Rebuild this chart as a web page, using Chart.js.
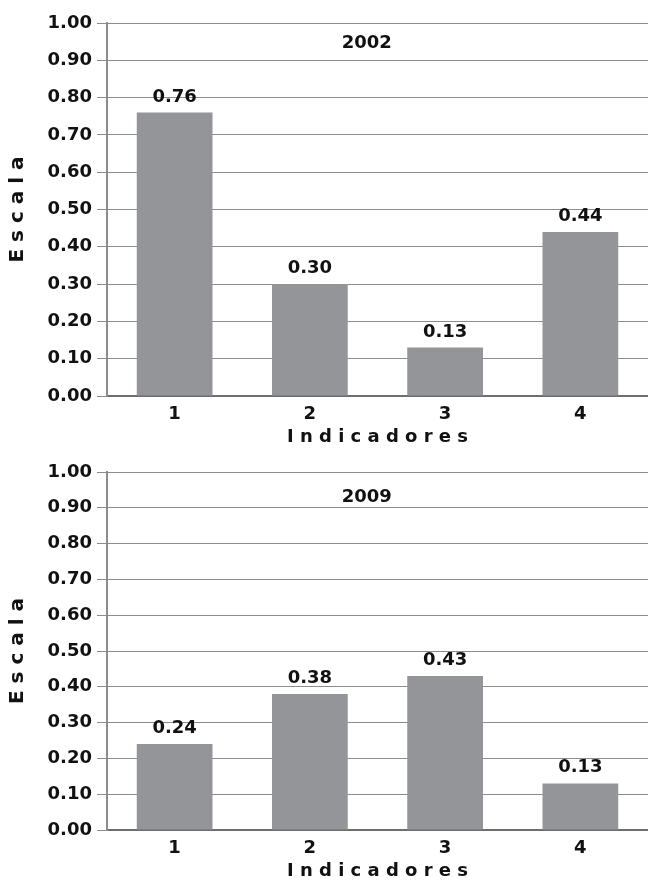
<!DOCTYPE html>
<html>
<head>
<meta charset="utf-8">
<script src="https://cdn.jsdelivr.net/npm/chart.js@4.4.0/dist/chart.umd.min.js"></script>
<style>
  html, body { margin: 0; padding: 0; background: #fff; }
  #topo { position: relative; width: 648px; height: 448px; }
  #base { position: relative; width: 648px; height: 440px; }
</style>
</head>
<body>
<div id="topo"><canvas id="grafico2002"></canvas></div>
<div id="base"><canvas id="grafico2009"></canvas></div>
<script>
// Dados
const indicadores = ['1', '2', '3', '4'];
const valores2002 = [0.76, 0.30, 0.13, 0.44];
const valores2009 = [0.24, 0.38, 0.43, 0.13];
const rotulosEscala = ['0.00', '0.10', '0.20', '0.30', '0.40', '0.50', '0.60', '0.70', '0.80', '0.90', '1.00'];

const fonte = '"DejaVu Sans", sans-serif';
const corBarra = '#939598';
const corGrade = '#8c8c8c';

// Plugin simples: valores acima das barras e o ano dentro da área
const pluginRotulos = {
  id: 'rotulos',
  afterDatasetsDraw(chart, args, opts) {
    const ctx = chart.ctx;
    const meta = chart.getDatasetMeta(0);
    const dados = chart.data.datasets[0].data;
    ctx.save();
    ctx.font = 'bold 18px ' + fonte;
    ctx.fillStyle = '#111';
    ctx.textAlign = 'center';
    ctx.textBaseline = 'alphabetic';
    meta.data.forEach((barra, i) => {
      ctx.fillText(dados[i].toFixed(2), barra.x, barra.y - 11);
    });
    const area = chart.chartArea;
    ctx.fillText(opts.ano, area.left + (area.right - area.left) * 0.48, area.top + opts.desloc);
    ctx.restore();
  }
};

function criarGrafico(idCanvas, ano, valores, margemTopo, margemBase, deslocAno) {
  return new Chart(document.getElementById(idCanvas), {
    type: 'bar',
    data: {
      labels: indicadores,
      datasets: [{
        data: valores,
        backgroundColor: corBarra,
        borderWidth: 0,
        barPercentage: 0.56,
        categoryPercentage: 1
      }]
    },
    options: {
      responsive: true,
      maintainAspectRatio: false,
      animation: false,
      layout: { padding: { top: margemTopo, bottom: margemBase, left: 0, right: 0 } },
      plugins: {
        legend: { display: false },
        tooltip: { enabled: false },
        rotulos: { ano: ano, desloc: deslocAno }
      },
      scales: {
        x: {
          grid: { display: false, drawTicks: false },
          border: { display: true, color: '#6d6e71', width: 2 },
          ticks: { color: '#111', padding: 8, font: { family: fonte, size: 18, weight: 'bold' } },
          title: {
            display: true,
            text: 'I n d i c a d o r e s',
            color: '#111',
            font: { family: fonte, size: 18, weight: 'bold' },
            padding: { top: 0, bottom: 0 }
          },
          afterFit(escala) { escala.height = 52; }
        },
        y: {
          min: 0,
          max: 1,
          ticks: {
            stepSize: 0.1,
            color: '#111',
            padding: 5,
            font: { family: fonte, size: 18, weight: 'bold' },
            callback: (valor, indice) => rotulosEscala[indice]
          },
          grid: { color: corGrade, lineWidth: 1, tickLength: 10 },
          border: { display: true, color: corGrade, width: 2 },
          title: {
            display: true,
            text: 'E s c a l a',
            color: '#111',
            font: { family: fonte, size: 20, weight: 'bold' },
            padding: { top: 6, bottom: 0 }
          },
          afterFit(escala) { escala.width = 107; }
        }
      }
    },
    plugins: [pluginRotulos]
  });
}

criarGrafico('grafico2002', '2002', valores2002, 23, 0, 25);
criarGrafico('grafico2009', '2009', valores2009, 24, 6, 30);
</script>
</body>
</html>
